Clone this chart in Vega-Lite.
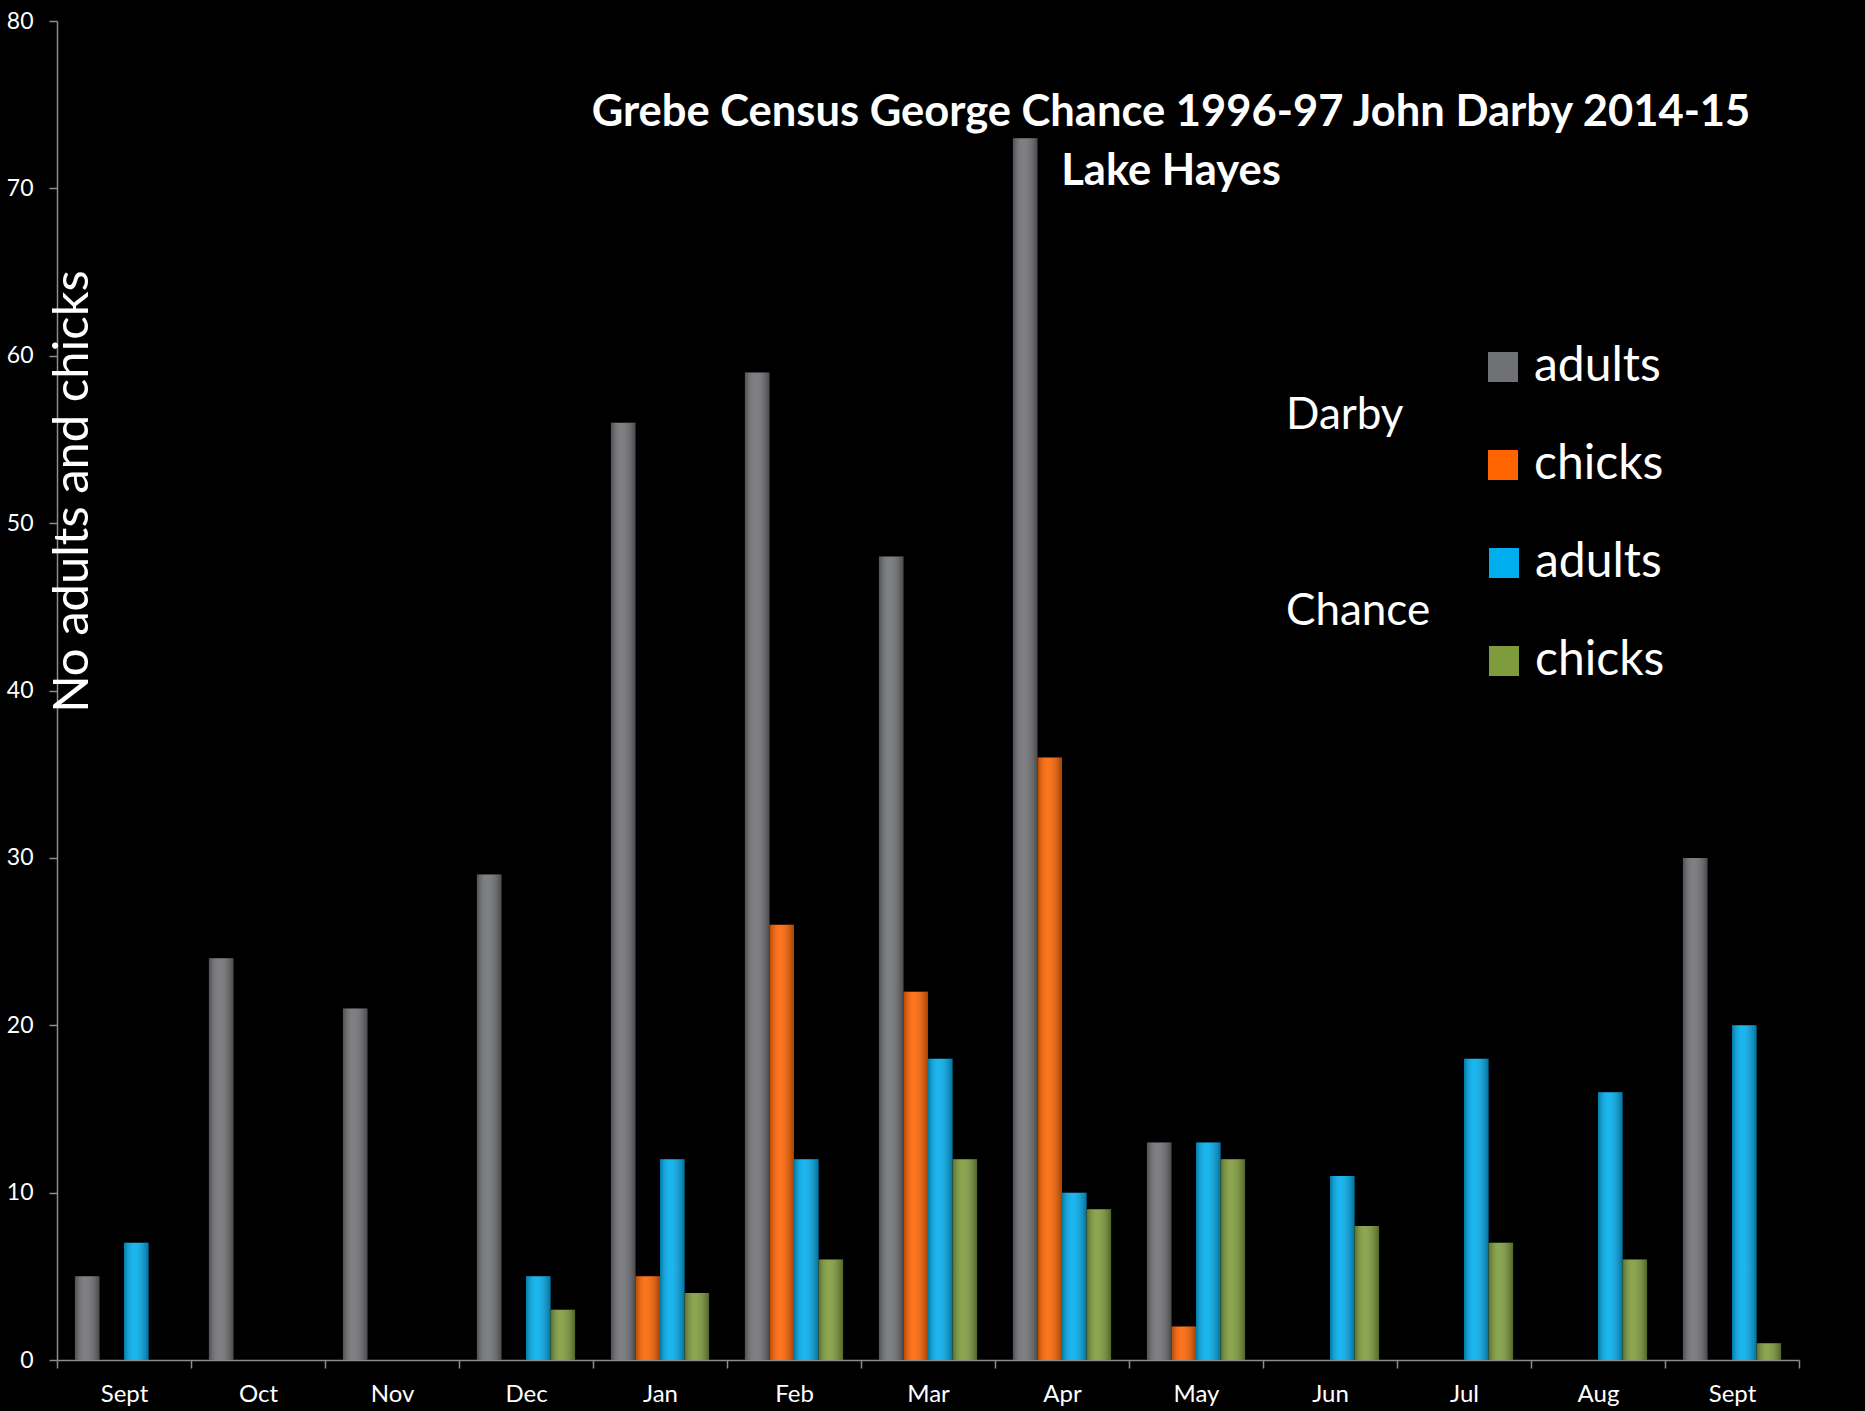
{
  "$schema": "https://vega.github.io/schema/vega-lite/v6.json",
  "autosize": {"type": "none"},
  "padding": {"left": 57, "top": 21, "right": 66, "bottom": 51},
  "width": 1742,
  "height": 1339,
  "background": "black",
  "config": {"font": "Lato", "view": {"stroke": null}},
  "title": {
    "text": ["Grebe Census George Chance 1996-97 John Darby 2014-15", "Lake Hayes"],
    "color": "white",
    "fontSize": 43.5,
    "fontWeight": "bold",
    "lineHeight": 59,
    "anchor": "middle",
    "frame": "group",
    "orient": "top",
    "baseline": "top",
    "offset": 0,
    "dx": 243,
    "dy": 184
  },
  "data": {
    "values": [
      {"m": "Sept-96", "s": "Darby adults", "v": 5},
      {"m": "Oct", "s": "Darby adults", "v": 24},
      {"m": "Nov", "s": "Darby adults", "v": 21},
      {"m": "Dec", "s": "Darby adults", "v": 29},
      {"m": "Jan", "s": "Darby adults", "v": 56},
      {"m": "Feb", "s": "Darby adults", "v": 59},
      {"m": "Mar", "s": "Darby adults", "v": 48},
      {"m": "Apr", "s": "Darby adults", "v": 73},
      {"m": "May", "s": "Darby adults", "v": 13},
      {"m": "Sept-97", "s": "Darby adults", "v": 30},
      {"m": "Jan", "s": "Darby chicks", "v": 5},
      {"m": "Feb", "s": "Darby chicks", "v": 26},
      {"m": "Mar", "s": "Darby chicks", "v": 22},
      {"m": "Apr", "s": "Darby chicks", "v": 36},
      {"m": "May", "s": "Darby chicks", "v": 2},
      {"m": "Sept-96", "s": "Chance adults", "v": 7},
      {"m": "Dec", "s": "Chance adults", "v": 5},
      {"m": "Jan", "s": "Chance adults", "v": 12},
      {"m": "Feb", "s": "Chance adults", "v": 12},
      {"m": "Mar", "s": "Chance adults", "v": 18},
      {"m": "Apr", "s": "Chance adults", "v": 10},
      {"m": "May", "s": "Chance adults", "v": 13},
      {"m": "Jun", "s": "Chance adults", "v": 11},
      {"m": "Jul", "s": "Chance adults", "v": 18},
      {"m": "Aug", "s": "Chance adults", "v": 16},
      {"m": "Sept-97", "s": "Chance adults", "v": 20},
      {"m": "Dec", "s": "Chance chicks", "v": 3},
      {"m": "Jan", "s": "Chance chicks", "v": 4},
      {"m": "Feb", "s": "Chance chicks", "v": 6},
      {"m": "Mar", "s": "Chance chicks", "v": 12},
      {"m": "Apr", "s": "Chance chicks", "v": 9},
      {"m": "May", "s": "Chance chicks", "v": 12},
      {"m": "Jun", "s": "Chance chicks", "v": 8},
      {"m": "Jul", "s": "Chance chicks", "v": 7},
      {"m": "Aug", "s": "Chance chicks", "v": 6},
      {"m": "Sept-97", "s": "Chance chicks", "v": 1}
    ]
  },
  "encoding": {
    "x": {
      "field": "m",
      "type": "nominal",
      "scale": {
        "domain": ["Sept-96", "Oct", "Nov", "Dec", "Jan", "Feb", "Mar", "Apr", "May", "Jun", "Jul", "Aug", "Sept-97"],
        "paddingInner": 0,
        "paddingOuter": 0
      },
      "axis": {
        "title": null,
        "labelAngle": 0,
        "labelExpr": "split(datum.label, '-')[0]",
        "labelColor": "white",
        "labelFontSize": 24,
        "labelPadding": 14,
        "domainColor": "#8c8c8c",
        "domainWidth": 1.5,
        "tickColor": "#8c8c8c",
        "tickWidth": 1.5,
        "tickSize": 8,
        "tickBand": "extent",
        "grid": false
      }
    },
    "xOffset": {
      "field": "s",
      "type": "nominal",
      "scale": {
        "domain": ["Darby adults", "Darby chicks", "Chance adults", "Chance chicks"],
        "paddingOuter": 0.73,
        "paddingInner": 0
      }
    },
    "y": {
      "field": "v",
      "type": "quantitative",
      "scale": {"domain": [0, 80], "nice": false},
      "axis": {
        "values": [0, 10, 20, 30, 40, 50, 60, 70, 80],
        "grid": false,
        "labelColor": "white",
        "labelFontSize": 23,
        "labelPadding": 16,
        "domainColor": "#8c8c8c",
        "domainWidth": 1.5,
        "tickColor": "#8c8c8c",
        "tickWidth": 1.5,
        "tickSize": 8,
        "title": "No adults and chicks",
        "titleColor": "white",
        "titleFontSize": 49,
        "titleFontWeight": "normal",
        "titleAngle": 270,
        "titleAlign": "center",
        "titleBaseline": "middle",
        "titleX": 15,
        "titleY": 470
      }
    }
  },
  "layer": [
    {
      "transform": [{"filter": "indexof(datum.s, 'Darby') == 0"}],
      "mark": {"type": "bar"},
      "encoding": {
        "color": {
          "field": "s",
          "type": "nominal",
          "scale": {"domain": ["Darby adults", "Darby chicks"], "range": ["#707174", "#ff6400"]},
          "legend": {
            "title": "Darby",
            "titleOrient": "left",
            "titleAnchor": "middle",
            "titleBaseline": "middle",
            "titleColor": "white",
            "titleFontSize": 44,
            "titleFontWeight": "normal",
            "titlePadding": 75,
            "labelExpr": "split(datum.label, ' ')[1]",
            "labelColor": "white",
            "labelFontSize": 48,
            "labelOffset": 7,
            "symbolType": "square",
            "symbolSize": 900,
            "symbolStrokeWidth": 0,
            "symbolOpacity": 1,
            "rowPadding": 50,
            "orient": "none",
            "legendX": 1229,
            "legendY": 322
          }
        }
      }
    },
    {
      "transform": [{"filter": "indexof(datum.s, 'Chance') == 0"}],
      "mark": {"type": "bar"},
      "encoding": {
        "color": {
          "field": "s",
          "type": "nominal",
          "scale": {"domain": ["Chance adults", "Chance chicks"], "range": ["#00aeef", "#7e9c3b"]},
          "legend": {
            "title": "Chance",
            "titleOrient": "left",
            "titleAnchor": "middle",
            "titleBaseline": "middle",
            "titleColor": "white",
            "titleFontSize": 44,
            "titleFontWeight": "normal",
            "titlePadding": 49,
            "labelExpr": "split(datum.label, ' ')[1]",
            "labelColor": "white",
            "labelFontSize": 48,
            "labelOffset": 7,
            "symbolType": "square",
            "symbolSize": 900,
            "symbolStrokeWidth": 0,
            "symbolOpacity": 1,
            "rowPadding": 50,
            "orient": "none",
            "legendX": 1229,
            "legendY": 518
          }
        }
      }
    },
    {
      "mark": {
        "type": "bar",
        "fill": {
          "gradient": "linear",
          "x1": 0, "y1": 0, "x2": 1, "y2": 0,
          "stops": [
            {"offset": 0, "color": "rgba(0,0,0,0.3)"},
            {"offset": 0.4, "color": "rgba(255,255,255,0.1)"},
            {"offset": 1, "color": "rgba(0,0,0,0.35)"}
          ]
        }
      },
      "encoding": {}
    }
  ],
  "resolve": {"scale": {"color": "independent"}, "legend": {"color": "independent"}}
}
